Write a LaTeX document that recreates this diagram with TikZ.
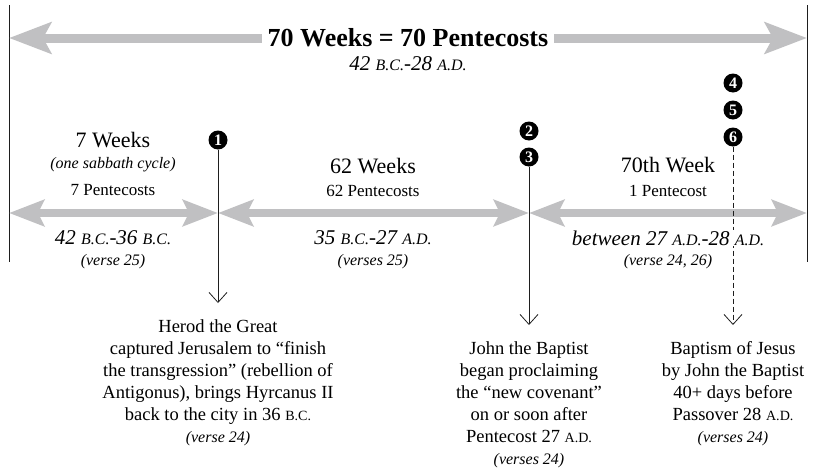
\documentclass[tikz,border=0pt]{standalone}
\usepackage{fontspec}
\setmainfont{Liberation Serif}
\usepackage{graphicx}
\usepackage{tikz}
\usetikzlibrary{positioning,arrows.meta}
\definecolor{bandgrey}{RGB}{192,192,194}
\definecolor{rulegrey}{RGB}{30,30,30}
\newcommand{\yr}[1]{\scalebox{0.76}{#1}}
\newcommand{\fsz}[2]{\fontsize{#1}{#2}\selectfont}

\begin{document}
\begin{tikzpicture}[x=1pt,y=-1pt,
  topband/.style={draw=bandgrey,line width=9pt,-{Stealth[length=42pt,width=31pt,inset=8pt]}},
  band/.style={draw=bandgrey,line width=7.5pt,{Stealth[length=35pt,width=26pt,inset=6pt]}-{Stealth[length=35pt,width=26pt,inset=6pt]}},
  sideline/.style={draw=rulegrey,line width=1pt},
  pointer/.style={draw=rulegrey,line width=0.8pt,-{Straight Barb[length=10pt,width=18pt]}},
  numdot/.style={circle,fill=black,text=white,inner sep=0pt,minimum size=19pt,font=\bfseries\fsz{16}{16}},
  weeks/.style={font=\fsz{22}{26}},
  pent/.style={font=\fsz{17}{20}},
  period/.style={font=\itshape\fsz{21}{24}},
  verse/.style={font=\itshape\fsz{16}{19}},
  note/.style={align=center,inner sep=0pt,font=\fsz{18.5}{22}}]
\useasboundingbox (0,0) rectangle (817,474);

% outer frame
\coordinate (ltop) at (9,5);   \coordinate (lbot) at (9,262);
\coordinate (rtop) at (807,5); \coordinate (rbot) at (807,262);
\draw[sideline] (ltop) -- (lbot);
\draw[sideline] (rtop) -- (rbot);

% the whole span
\node[font=\bfseries\fsz{26}{30},inner xsep=6pt] (title) at (408,38) {70 Weeks = 70 Pentecosts};
\draw[topband] (title.west) -- (ltop |- title);
\draw[topband] (title.east) -- (rtop |- title);
\node[period] (whole) at (408,64) {42 \yr{B.C.}-28 \yr{A.D.}};

% the three parts
\coordinate (m0) at (9,213);   \coordinate (m1) at (218,213);
\coordinate (m2) at (529,213); \coordinate (m3) at (807,213);
\draw[band] (m0) -- (m1);
\draw[band] (m1) -- (m2);
\draw[band] (m2) -- (m3);

\node[weeks] (w7) at (113,140) {7 Weeks};
\node[verse] (cycle) at (113,165) {(one sabbath cycle)};
\node[pent] (p7) at (113,190) {7 Pentecosts};
\node[period] (d7) at (113,238) {42 \yr{B.C.}-36 \yr{B.C.}};
\node[verse] (v7) at (113,262) {(verse 25)};

\node[weeks] (w62) at (373,166) {62 Weeks};
\node[pent] (p62) at (373,191) {62 Pentecosts};
\node[period] (d62) at (373,238) {35 \yr{B.C.}-27 \yr{A.D.}};
\node[verse] (v62) at (373,262) {(verses 25)};

\node[weeks] (w70) at (668,165) {70th Week};
\node[pent] (p70) at (668,191) {1 Pentecost};
\node[verse] (v70) at (668,262) {(verse 24, 26)};

% events
\node[numdot] (b1) at (218,140) {1};
\node[numdot] (b2) at (529,131) {2};
\node[numdot] (b3) at (529,157) {3};
\node[numdot] (b4) at (733,83) {4};
\node[numdot] (b5) at (733,110) {5};
\node[numdot] (b6) at (733,137) {6};

\coordinate (t1) at (218,303);
\coordinate (t2) at (529,325);
\coordinate (t3) at (733,325);
\draw[pointer] (b1) -- (t1);
\draw[pointer] (b3) -- (t2);
\draw[pointer,dash pattern=on 5pt off 3pt] (b6) -- (t3);

\node[period,fill=white,inner sep=1pt] (d70) at (668,238) {between 27 \yr{A.D.}-28 \yr{A.D.}};

\node[note,below=16pt of t1] (herod) {Herod the Great\\captured Jerusalem to “finish\\the transgression” (rebellion of\\Antigonus), brings Hyrcanus II\\back to the city in 36 \yr{B.C.}\\{\itshape\fsz{16}{22}(verse 24)}};
\node[note,below=16pt of t2] (john) {John the Baptist\\began proclaiming\\the “new covenant”\\on or soon after\\Pentecost 27 \yr{A.D.}\\{\itshape\fsz{16}{22}(verses 24)}};
\node[note,below=16pt of t3] (baptism) {Baptism of Jesus\\by John the Baptist\\40+ days before\\Passover 28 \yr{A.D.}\\{\itshape\fsz{16}{22}(verses 24)}};
\end{tikzpicture}
\end{document}
